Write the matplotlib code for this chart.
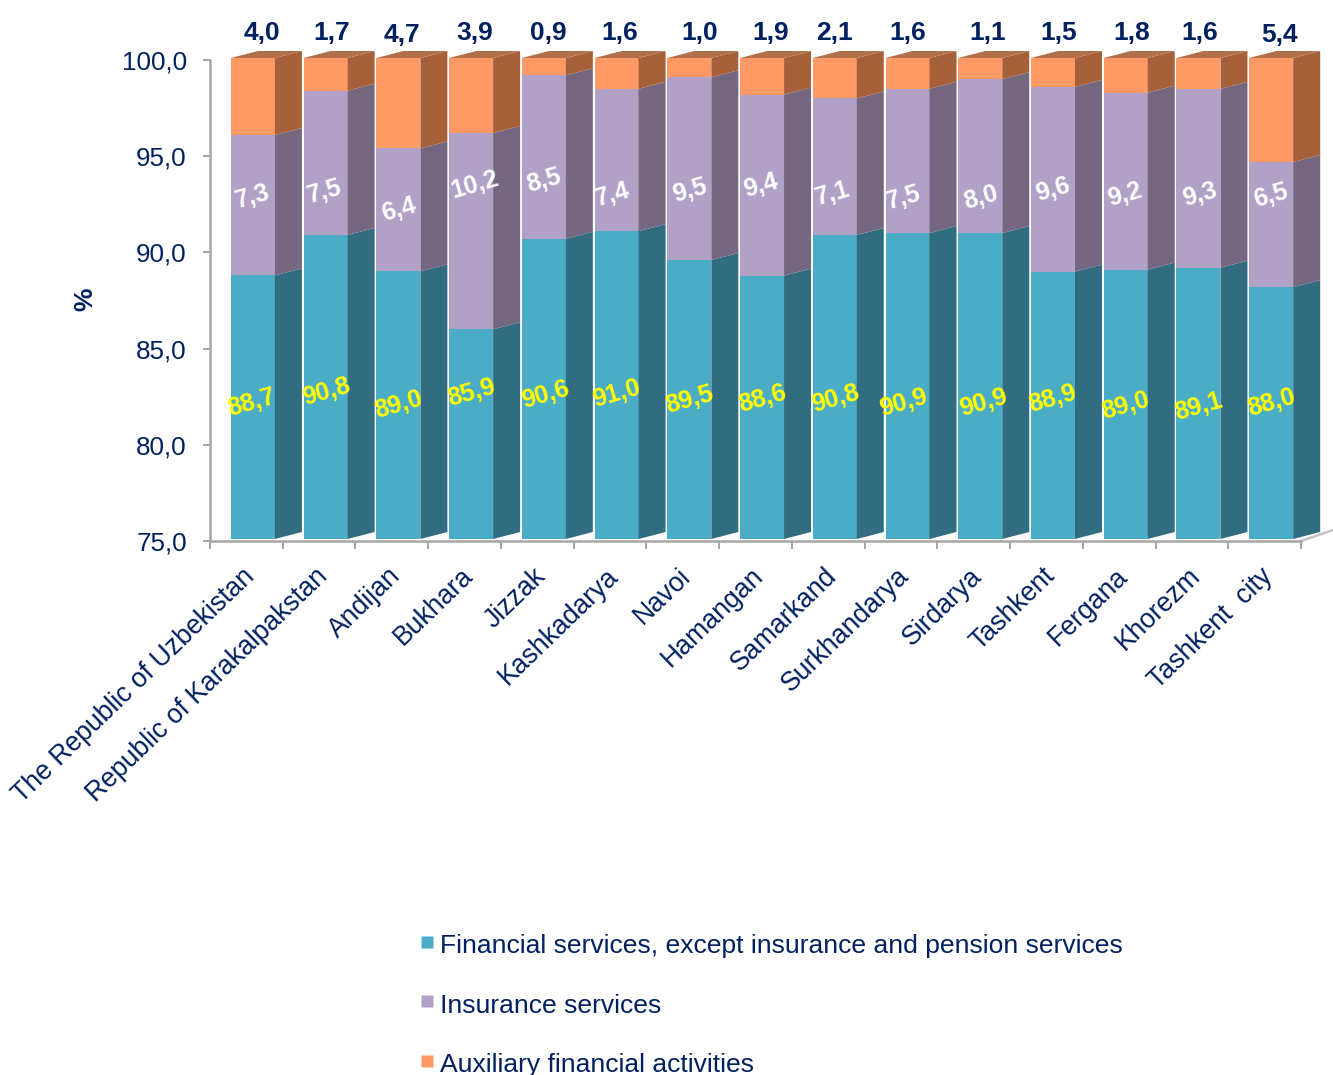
import matplotlib
matplotlib.use("Agg")
import matplotlib.pyplot as plt
import numpy as np
from matplotlib.patches import Polygon
from matplotlib.lines import Line2D
from matplotlib.transforms import Affine2D, IdentityTransform

regions = ["The Republic of Uzbekistan", "Republic of Karakalpakstan", "Andijan", "Bukhara",
           "Jizzak", "Kashkadarya", "Navoi", "Hamangan", "Samarkand", "Surkhandarya",
           "Sirdarya", "Tashkent", "Fergana", "Khorezm", "Tashkent  city"]
financial = [88.7, 90.8, 89.0, 85.9, 90.6, 91.0, 89.5, 88.6, 90.8, 90.9, 90.9, 88.9, 89.0, 89.1, 88.0]
insurance = [7.3, 7.5, 6.4, 10.2, 8.5, 7.4, 9.5, 9.4, 7.1, 7.5, 8.0, 9.6, 9.2, 9.3, 6.5]
auxiliary = [4.0, 1.7, 4.7, 3.9, 0.9, 1.6, 1.0, 1.9, 2.1, 1.6, 1.1, 1.5, 1.8, 1.6, 5.4]
series_names = ["Financial services, except insurance and pension services",
                "Insurance services", "Auxiliary financial activities"]
yticks = [75, 80, 85, 90, 95, 100]

# manual label placement (pixels from top-left of the image)
lab_fin = [(252, 403), (326, 392), (399, 405), (472, 393), (545, 395), (617, 394), (690, 400), (763, 399),
           (835, 399), (903, 403), (983, 403), (1053, 399), (1126, 406), (1199, 407), (1272, 403)]
lab_ins = [(253, 197), (325, 192), (399, 210), (475, 185), (544, 181), (613, 195), (690, 191), (761, 186),
           (833, 194), (904, 198), (981, 198), (1053, 190), (1125, 195), (1200, 195), (1271, 196)]
lab_aux = [(262, 33), (332, 33), (402, 35), (475, 33), (548, 33), (620, 33), (700, 33), (771, 33),
           (834, 33), (908, 33), (988, 33), (1059, 33), (1132, 33), (1200, 33), (1280, 35)]

W, H = 1333, 1075
NAVY = "#002060"
GREY = "#a6a6a6"
FRONT = ["#4bacc6", "#b2a1c7", "#ff9966"]
SIDE = ["#316c80", "#75677f", "#a6613a"]
TOP = "#b2704a"
FONT = "Liberation Sans"
plt.rcParams["font.family"] = FONT

X0, X1 = 210, 1301
step = (X1 - X0) / 15
fig = plt.figure(figsize=(W / 100, H / 100), dpi=100, facecolor="white")
ax = fig.add_axes([X0 / W, 1 - 541 / H, (X1 - X0) / W, (541 - 60) / H])
ax.set_xlim(0, 15)
ax.set_ylim(75, 100)

raw = np.array([financial, insurance, auxiliary], dtype=float)
share = raw / raw.sum(axis=0) * 100
tops = np.cumsum(share, axis=0)
bottoms = np.vstack([np.full(15, 75.0), tops[:-1]])

lift = ax.transData + Affine2D().translate(0, 2)
xc = np.arange(15) + 0.59
bw = 0.605
depth_x = 27 / step
depth_y = 7 / 19.24
for s in range(3):
    ax.bar(xc, tops[s] - bottoms[s], bw, bottom=bottoms[s], color=FRONT[s],
           edgecolor="none", transform=lift, zorder=3, clip_on=False)
    for i in range(15):
        xr = xc[i] + bw / 2
        ax.add_patch(Polygon([(xr, bottoms[s][i]), (xr + depth_x, bottoms[s][i] + depth_y),
                              (xr + depth_x, tops[s][i] + depth_y), (xr, tops[s][i])],
                             closed=True, fc=SIDE[s], ec="none", transform=lift, zorder=3, clip_on=False))
for i in range(15):
    xl, xr = xc[i] - bw / 2, xc[i] + bw / 2
    ax.add_patch(Polygon([(xl, tops[2][i]), (xl + depth_x, tops[2][i] + depth_y),
                          (xr + depth_x, tops[2][i] + depth_y), (xr, tops[2][i])],
                         closed=True, fc=TOP, ec="none", transform=lift, zorder=3, clip_on=False))

for sp in ("top", "right"):
    ax.spines[sp].set_visible(False)
for sp in ("left", "bottom"):
    ax.spines[sp].set_color(GREY)
    ax.spines[sp].set_linewidth(1.8)
ax.plot([15, 15 + 32 / step], [75, 75 + 11 / 19.24], color="#c4c4c4", lw=1.8, clip_on=False, zorder=2)

ax.set_yticks(yticks)
ax.set_yticklabels([f"{v:.1f}".replace(".", ",") for v in yticks], fontsize=18.7, color=NAVY)
ax.tick_params(axis="y", length=5.2, width=1.4, color=GREY, pad=11.5)
ax.set_xticks(np.arange(16))
ax.set_xticklabels([])
ax.tick_params(axis="x", length=5.8, width=1.4, color=GREY)

for i, name in enumerate(regions):
    ax.annotate(name, (i + 0.44, 75), xytext=(0, -22), textcoords="offset pixels",
                rotation=44, ha="right", va="top", rotation_mode="anchor",
                fontsize=19.2, color=NAVY)


def px_text(x, y, txt, **kw):
    fig.text(x, H - y, txt, transform=IdentityTransform(), ha="center", va="center", **kw)


def fmt(v):
    return f"{v:.1f}".replace(".", ",")


for i in range(15):
    px_text(*lab_fin[i], fmt(financial[i]), rotation=16, color="#ffff00", fontsize=18, fontweight="bold")
    px_text(*lab_ins[i], fmt(insurance[i]), rotation=16, color="white", fontsize=18, fontweight="bold")
    px_text(*lab_aux[i], fmt(auxiliary[i]), color=NAVY, fontsize=19, fontweight="bold")

px_text(85, 299, "%", rotation=90, color=NAVY, fontsize=19, fontweight="bold")

handles = [Line2D([], [], ls="none", marker="s", ms=8.6, mfc=c, mec="none") for c in FRONT]
fig.legend(handles, series_names, loc="upper left", bbox_to_anchor=(420 / W, 1 - 930 / H),
           frameon=False, fontsize=19.07, labelcolor=NAVY, handlelength=0.5, handletextpad=0.27,
           handleheight=1.3, labelspacing=1.16, borderpad=0, borderaxespad=0)

fig.savefig("out.png", dpi=100, facecolor="white")
